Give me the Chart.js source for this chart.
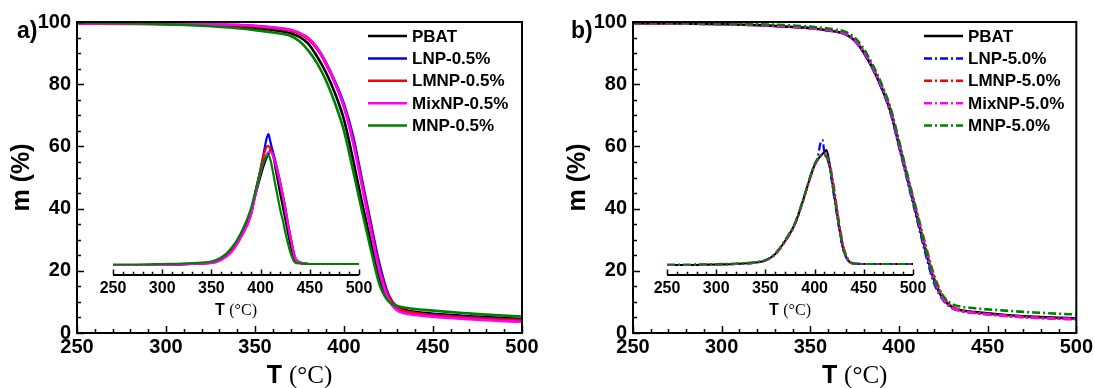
<!DOCTYPE html>
<html>
<head>
<meta charset="utf-8">
<script src="https://cdn.jsdelivr.net/npm/chart.js@4.4.1/dist/chart.umd.min.js"></script>
<style>
  html, body { margin: 0; padding: 0; background: #fff; }
  #wrap { position: relative; width: 1095px; height: 388px; overflow: hidden; }
  canvas { position: absolute; }
</style>
</head>
<body>
<div id="wrap">
  <canvas id="mainA" width="545" height="388" style="left:0;top:0"></canvas>
  <canvas id="mainB" width="539" height="388" style="left:556px;top:0"></canvas>
  <canvas id="insetA" width="306" height="225" style="left:83px;top:100px"></canvas>
  <canvas id="insetB" width="306" height="225" style="left:637px;top:100px"></canvas>
</div>
<script>
// temperatures (°C)
const T_MAIN = [250, 275, 300, 320, 340, 350, 360, 370, 375, 380, 385, 390, 395, 400, 405, 410, 415, 420, 425, 430, 435, 440, 450, 460, 470, 480, 490, 500];
const T_DTG = [250, 275, 300, 320, 340, 350, 360, 370, 380, 390, 395, 400, 403, 406, 408, 410, 412, 415, 418, 420, 423, 425, 428, 430, 435, 440, 450, 470, 500];

const X_TICKS = [250, 300, 350, 400, 450, 500];
const Y_TICKS = [0, 20, 40, 60, 80, 100];

const LABELS_A = ["PBAT", "LNP-0.5%", "LMNP-0.5%", "MixNP-0.5%", "MNP-0.5%"];
const LABELS_B = ["PBAT", "LNP-5.0%", "LMNP-5.0%", "MixNP-5.0%", "MNP-5.0%"];
const COLORS = ["#000000", "#0000ff", "#ff0000", "#ff00ff", "#008000"];

// a) TGA, m (%)
const a_PBAT  = [99.7, 99.6, 99.4, 99.1, 98.6, 98.1, 97.4, 96.4, 95.2, 93.0, 88.8, 83.6, 77.0, 68.6, 56.0, 42.2, 29.3, 17.5, 10.8, 8.3, 7.3, 6.8, 6.2, 5.8, 5.4, 5.1, 4.8, 4.5];
const a_LNP   = [99.6, 99.5, 99.4, 99.3, 99.0, 98.7, 98.2, 97.4, 96.4, 94.7, 91.6, 86.8, 80.8, 73.6, 63.5, 49.5, 35.5, 22.0, 12.3, 8.2, 6.9, 6.4, 5.9, 5.5, 5.1, 4.8, 4.5, 4.2];
const a_LMNP  = [99.5, 99.4, 99.3, 99.2, 98.9, 98.6, 98.1, 97.2, 96.2, 94.4, 91.2, 86.3, 80.2, 72.6, 62.0, 48.5, 34.2, 20.5, 11.8, 8.1, 6.9, 6.4, 5.7, 5.3, 4.9, 4.6, 4.3, 4.1];
const a_MixNP = [99.5, 99.5, 99.4, 99.3, 99.1, 98.8, 98.3, 97.5, 96.5, 94.8, 91.6, 86.6, 80.4, 72.8, 61.5, 47.5, 33.0, 19.5, 10.8, 7.2, 6.2, 5.8, 5.2, 4.8, 4.4, 4.1, 3.8, 3.6];
const a_MNP   = [99.8, 99.7, 99.3, 98.8, 98.0, 97.4, 96.6, 95.5, 93.8, 90.8, 86.6, 81.0, 73.8, 65.0, 52.5, 39.5, 27.0, 15.5, 10.2, 8.7, 8.1, 7.7, 7.2, 6.7, 6.3, 5.9, 5.6, 5.3];

// b) TGA, m (%)
const b_PBAT  = [99.6, 99.5, 99.3, 99.0, 98.4, 98.0, 97.3, 96.0, 94.0, 90.3, 85.3, 79.1, 71.6, 60.5, 49.2, 37.9, 26.5, 16.7, 10.9, 8.3, 7.3, 6.9, 6.3, 5.8, 5.4, 5.1, 4.9, 4.7];
const b_LNP   = [99.7, 99.6, 99.4, 99.1, 98.5, 98.0, 97.3, 96.0, 94.0, 90.3, 85.2, 79.0, 71.3, 60.0, 48.5, 37.0, 25.5, 15.8, 10.5, 8.0, 7.1, 6.7, 6.1, 5.6, 5.2, 4.9, 4.7, 4.6];
const b_LMNP  = [99.6, 99.5, 99.3, 99.0, 98.5, 98.0, 97.4, 96.2, 94.3, 90.8, 85.8, 79.8, 72.3, 61.3, 50.0, 39.2, 28.2, 18.2, 11.8, 8.5, 7.2, 6.7, 6.0, 5.5, 5.1, 4.8, 4.6, 4.4];
const b_MixNP = [99.6, 99.5, 99.3, 99.0, 98.5, 98.0, 97.4, 96.2, 94.2, 90.6, 85.6, 79.5, 72.0, 60.8, 49.5, 38.3, 27.0, 17.0, 10.8, 8.1, 7.1, 6.6, 6.0, 5.5, 5.1, 4.8, 4.6, 4.5];
const b_MNP   = [99.8, 99.7, 99.5, 99.3, 98.9, 98.5, 97.9, 96.8, 95.0, 91.5, 86.4, 80.3, 72.8, 61.8, 50.2, 38.8, 27.3, 17.5, 11.8, 9.3, 8.5, 8.1, 7.6, 7.2, 6.8, 6.5, 6.2, 6.0];

// insets: DTG (%/°C)
const dA_PBAT  = [0, 0, 0.01, 0.02, 0.03, 0.06, 0.13, 0.30, 0.60, 1.04, 1.42, 1.78, 1.98, 2.14, 2.22, 2.30, 2.26, 1.95, 1.63, 1.42, 1.13, 0.93, 0.63, 0.43, 0.10, 0.04, 0.02, 0.02, 0.02];
const dA_LNP   = [0, 0, 0, 0.01, 0.03, 0.04, 0.11, 0.26, 0.56, 1.00, 1.48, 1.92, 2.22, 2.52, 2.62, 2.46, 2.30, 2.08, 1.82, 1.64, 1.35, 1.15, 0.80, 0.60, 0.15, 0.05, 0.02, 0.02, 0.02];
const dA_LMNP  = [0, 0, 0, 0.01, 0.03, 0.04, 0.11, 0.26, 0.56, 1.00, 1.48, 1.92, 2.18, 2.36, 2.38, 2.32, 2.22, 2.05, 1.82, 1.64, 1.35, 1.15, 0.80, 0.60, 0.15, 0.05, 0.02, 0.02, 0.02];
const dA_MixNP = [0, 0, 0, 0.01, 0.03, 0.04, 0.10, 0.25, 0.55, 0.98, 1.42, 1.86, 2.06, 2.20, 2.26, 2.26, 2.22, 2.02, 1.80, 1.62, 1.33, 1.12, 0.78, 0.58, 0.14, 0.05, 0.02, 0.02, 0.02];
const dA_MNP   = [0.01, 0.01, 0.02, 0.03, 0.05, 0.07, 0.15, 0.33, 0.64, 1.12, 1.50, 1.88, 2.06, 2.18, 2.20, 2.10, 1.92, 1.60, 1.30, 1.10, 0.86, 0.66, 0.42, 0.27, 0.05, 0.03, 0.02, 0.02, 0.02];

const dB_PBAT  = [0, 0, 0.01, 0.02, 0.05, 0.09, 0.22, 0.48, 0.82, 1.40, 1.72, 2.00, 2.10, 2.18, 2.22, 2.26, 2.30, 2.04, 1.66, 1.40, 1.02, 0.76, 0.42, 0.26, 0.07, 0.03, 0.02, 0.02, 0.02];
const dB_LNP   = [0, 0, 0.01, 0.02, 0.05, 0.09, 0.22, 0.48, 0.82, 1.40, 1.72, 2.00, 2.14, 2.44, 2.50, 2.24, 2.16, 1.98, 1.60, 1.34, 0.96, 0.72, 0.40, 0.25, 0.07, 0.03, 0.02, 0.02, 0.02];
const dB_LMNP  = [0, 0, 0.01, 0.02, 0.05, 0.09, 0.21, 0.47, 0.81, 1.39, 1.71, 1.99, 2.10, 2.18, 2.22, 2.22, 2.18, 2.06, 1.76, 1.52, 1.10, 0.84, 0.50, 0.32, 0.09, 0.03, 0.02, 0.02, 0.02];
const dB_MixNP = [0, 0, 0.01, 0.02, 0.05, 0.09, 0.22, 0.48, 0.82, 1.40, 1.72, 2.00, 2.10, 2.17, 2.20, 2.21, 2.18, 2.02, 1.68, 1.42, 1.03, 0.77, 0.43, 0.27, 0.07, 0.03, 0.02, 0.02, 0.02];
const dB_MNP   = [0.01, 0.01, 0.02, 0.03, 0.06, 0.10, 0.23, 0.50, 0.84, 1.42, 1.74, 2.02, 2.12, 2.18, 2.21, 2.20, 2.16, 2.00, 1.66, 1.40, 1.02, 0.76, 0.42, 0.26, 0.07, 0.03, 0.02, 0.02, 0.02];

const SANS = "'Liberation Sans', Arial, sans-serif";
const SERIF = "'Liberation Serif', 'Times New Roman', serif";

function pts(xs, ys) {
  return xs.map((x, i) => ({ x, y: ys[i] }));
}

function dsets(xs, labels, series, dashed, width) {
  return series.map((ys, i) => ({
    label: labels[i],
    data: pts(xs, ys),
    borderColor: COLORS[i],
    backgroundColor: COLORS[i],
    borderWidth: width,
    borderDash: dashed && i > 0 ? [8, 3, 2, 3] : [],
    pointRadius: 0,
    cubicInterpolationMode: "monotone",
    fill: false,
    order: series.length - i   // last one on top
  }));
}

// "T (°C)" — T in sans bold, unit in serif like the original
function drawTempTitle(ctx, cx, baseY, size) {
  const a = "T ", b = "(\u00B0C)";
  ctx.save();
  ctx.fillStyle = "#000";
  ctx.textAlign = "left";
  ctx.textBaseline = "alphabetic";
  ctx.font = `bold ${size}px ${SANS}`;
  const wa = ctx.measureText(a).width;
  ctx.font = `${size}px ${SERIF}`;
  const wb = ctx.measureText(b).width;
  const x0 = cx - (wa + wb) / 2;
  ctx.font = `bold ${size}px ${SANS}`;
  ctx.fillText(a, x0, baseY);
  ctx.font = `${size}px ${SERIF}`;
  ctx.fillText(b, x0 + wa, baseY);
  ctx.restore();
}

// inward ticks, frame, legend, panel tag
const framePlugin = {
  id: "frame",
  afterDraw(chart, args, o) {
    const { ctx, chartArea: a, scales: { x, y } } = chart;
    ctx.save();
    ctx.strokeStyle = "#000";
    ctx.lineWidth = 1.5;
    ctx.beginPath();
    for (let v = x.min; v <= x.max; v += o.xMinor) {
      const px = Math.round(x.getPixelForValue(v)) + 0.5;
      const len = v % o.xMajor === 0 ? o.major : o.minor;
      ctx.moveTo(px, a.bottom);
      ctx.lineTo(px, a.bottom - len);
    }
    if (o.yMinor) {
      for (let v = y.min; v <= y.max; v += o.yMinor) {
        const py = Math.round(y.getPixelForValue(v)) + 0.5;
        const len = v % o.yMajor === 0 ? o.major : o.minor;
        ctx.moveTo(a.left, py);
        ctx.lineTo(a.left + len, py);
      }
    }
    ctx.stroke();

    ctx.lineWidth = 2;
    if (o.box) {
      ctx.strokeRect(a.left, a.top, a.right - a.left, a.bottom - a.top);
    } else {
      ctx.beginPath();
      ctx.moveTo(a.left, a.bottom);
      ctx.lineTo(a.right, a.bottom);
      ctx.stroke();
    }

    if (o.legend) {
      const x0 = a.left + 291;
      ctx.font = `bold 17px ${SANS}`;
      ctx.textBaseline = "middle";
      ctx.fillStyle = "#000";
      chart.data.datasets.forEach((d, i) => {
        const yy = a.top + 14 + i * 22.4;
        ctx.strokeStyle = d.borderColor;
        ctx.lineWidth = 2.5;
        ctx.setLineDash(d.borderDash);
        ctx.beginPath();
        ctx.moveTo(x0, yy);
        ctx.lineTo(x0 + 39, yy);
        ctx.stroke();
        ctx.setLineDash([]);
        ctx.fillText(d.label, x0 + 44, yy + 1);
      });
    }

    if (o.tag) {
      ctx.font = `bold 23px ${SANS}`;
      ctx.textBaseline = "alphabetic";
      ctx.fillStyle = "#000";
      ctx.fillText(o.tag, o.tagX, 38);
    }
    ctx.restore();

    drawTempTitle(ctx, (a.left + a.right) / 2, o.titleY, o.titleSize);
  }
};

function xScale(height, pad, size) {
  return {
    type: "linear", min: 250, max: 500,
    afterBuildTicks: s => { s.ticks = X_TICKS.map(v => ({ value: v })); },
    afterFit: s => { s.height = height; },
    grid: { display: false, drawTicks: false },
    border: { display: false },
    ticks: { padding: pad, color: "#000", autoSkip: false, maxRotation: 0,
             font: { family: SANS, size, weight: "bold" } }
  };
}

function mainChart(id, labels, series, dashed, tag, tagX, rightPad) {
  return new Chart(document.getElementById(id), {
    type: "line",
    data: { datasets: dsets(T_MAIN, labels, series, dashed, 2.6) },
    options: {
      responsive: false, animation: false, events: [],
      layout: { autoPadding: false, padding: { left: 7, right: rightPad, top: 22, bottom: 0 } },
      scales: {
        x: xScale(55, 2, 20),
        y: {
          type: "linear", min: 0, max: 100,
          afterBuildTicks: s => { s.ticks = Y_TICKS.map(v => ({ value: v })); },
          afterFit: s => { s.width = 70; },
          grid: { display: false, drawTicks: false },
          border: { display: false },
          ticks: { padding: 6, color: "#000", font: { family: SANS, size: 20, weight: "bold" } },
          title: { display: true, text: "m (%)", color: "#000", padding: 0,
                   font: { family: SANS, size: 25, weight: "bold" } }
        }
      },
      plugins: {
        legend: { display: false },
        tooltip: { enabled: false },
        frame: { xMinor: 10, xMajor: 50, yMinor: 5, yMajor: 20, major: 7, minor: 4,
                 box: true, legend: true, tag, tagX, titleY: 383, titleSize: 25 }
      }
    },
    plugins: [framePlugin]
  });
}

function insetChart(id, labels, series, dashed) {
  return new Chart(document.getElementById(id), {
    type: "line",
    data: { datasets: dsets(T_DTG, labels, series, dashed, 2.2) },
    options: {
      responsive: false, animation: false, events: [],
      layout: { autoPadding: false, padding: { left: 30, right: 30, top: 10, bottom: 0 } },
      scales: {
        x: xScale(50, 4, 16),
        y: { display: false, min: -0.2, max: 3.1 }
      },
      plugins: {
        legend: { display: false },
        tooltip: { enabled: false },
        frame: { xMinor: 10, xMajor: 50, major: 5.5, minor: 3.3, box: false, legend: false,
                 titleY: 215, titleSize: 16 }
      }
    },
    plugins: [framePlugin]
  });
}

mainChart("mainA", LABELS_A, [a_PBAT, a_LNP, a_LMNP, a_MixNP, a_MNP], false, "a)", 17, 23);
mainChart("mainB", LABELS_B, [b_PBAT, b_LNP, b_LMNP, b_MixNP, b_MNP], true, "b)", 15, 18);
insetChart("insetA", LABELS_A, [dA_PBAT, dA_LNP, dA_LMNP, dA_MixNP, dA_MNP], false);
insetChart("insetB", LABELS_B, [dB_PBAT, dB_LNP, dB_LMNP, dB_MixNP, dB_MNP], true);
</script>
</body>
</html>
